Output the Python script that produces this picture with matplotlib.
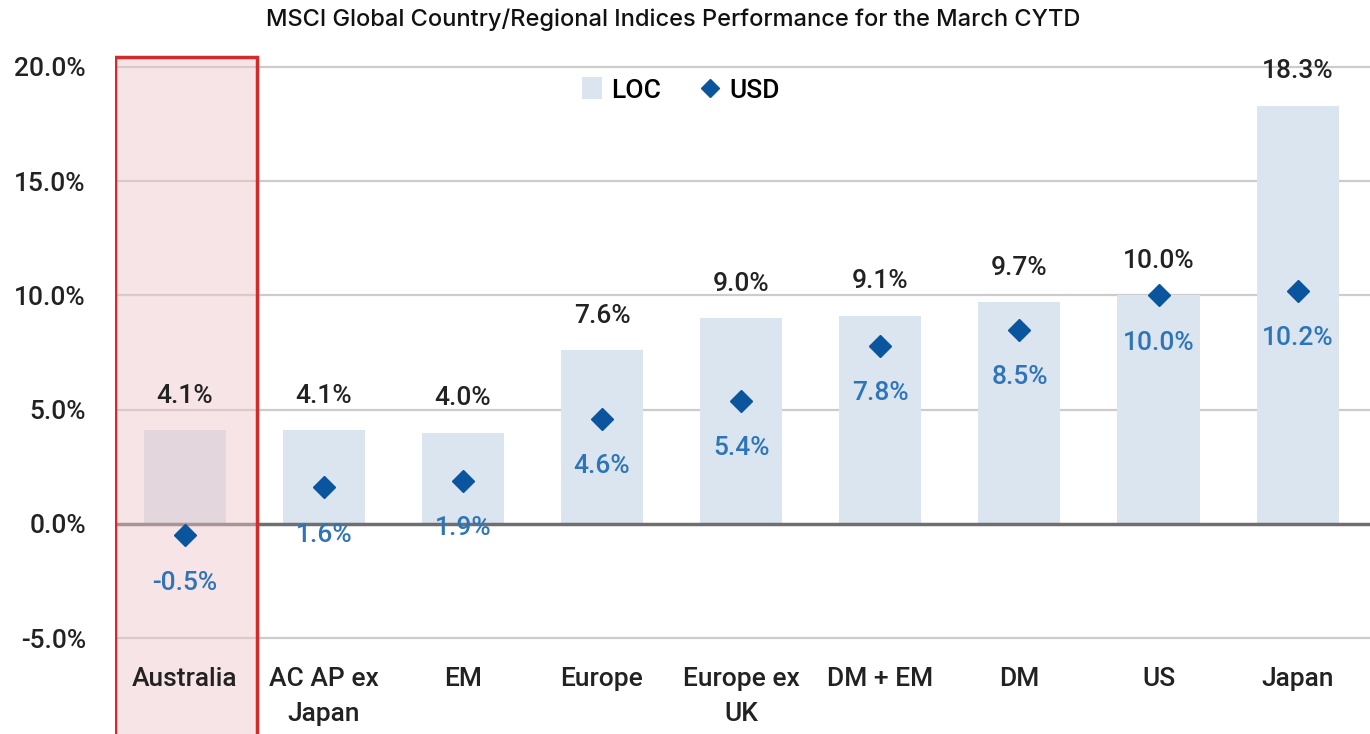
import numpy as np
import matplotlib.pyplot as plt
from matplotlib.patches import Rectangle
from matplotlib.lines import Line2D
from matplotlib.patches import Patch

plt.rcParams['font.family'] = ['Roboto', 'DejaVu Sans']
plt.rcParams['font.weight'] = 'medium'

# data
categories = ["Australia", "AC AP ex\nJapan", "EM", "Europe", "Europe ex\nUK",
              "DM + EM", "DM", "US", "Japan"]
loc_ret = [4.1, 4.1, 4.0, 7.6, 9.0, 9.1, 9.7, 10.0, 18.3]
usd_ret = [-0.5, 1.6, 1.9, 4.6, 5.4, 7.8, 8.5, 10.0, 10.2]
yticks = [20, 15, 10, 5, 0, -5]

bar_col = "#dae5f0"
dia_col = "#0b559f"
usd_txt = "#2e74b8"
txt_col = "#222222"

fig = plt.figure(figsize=(13.7, 7.34), dpi=100)
ax = fig.add_axes([115/1370, 0, 1255/1370, 694/734])

x = np.arange(len(categories))
ax.bar(x, loc_ret, width=0.59, color=bar_col, zorder=2)
ax.plot(x, usd_ret, linestyle="none", marker="D", markersize=11,
        color=dia_col, zorder=5)

# gridlines
for t in yticks:
    if t == 0:
        ax.axhline(0, color="#6f6f6f", lw=2.5, zorder=3)
    else:
        ax.axhline(t, color="#cccccc", lw=1.6, zorder=1)

# highlight box for Australia
ax.add_patch(Rectangle((-0.5, -12), 1.02, 32.45, facecolor="#eec4c8", alpha=0.45,
                       edgecolor="none", zorder=4))
ax.add_patch(Rectangle((-0.5, -12), 1.02, 32.45, facecolor="none",
                       edgecolor="#d42a2a", lw=2.5, zorder=6))

for i in range(len(categories)):
    ax.annotate(f"{loc_ret[i]:.1f}%", (x[i], loc_ret[i]), xytext=(0, 25),
                textcoords="offset points", ha="center", va="center",
                fontsize=19, color=txt_col, zorder=7)
    ax.annotate(f"{usd_ret[i]:.1f}%", (x[i], usd_ret[i]), xytext=(0, -34),
                textcoords="offset points", ha="center", va="center",
                fontsize=19, color=usd_txt, zorder=7)
    ax.text(x[i], -6.25, categories[i], ha="center", va="top", fontsize=19,
            color=txt_col, linespacing=1.6, zorder=7)

ax.set_xlim(-0.5, 8.52)
ax.set_ylim(-9.19, 21.18)
ax.set_yticks(yticks)
ax.set_yticklabels([f"{t:.1f}%" for t in yticks], fontsize=19, color=txt_col)
ax.set_xticks([])
ax.tick_params(axis="y", length=0, pad=21)
for s in ax.spines.values():
    s.set_visible(False)

handles = [Patch(facecolor=bar_col, edgecolor="none", label="LOC"),
           Line2D([], [], linestyle="none", marker="D", markersize=9,
                  color=dia_col, label="USD")]
leg = ax.legend(handles=handles, loc="center", ncol=2, frameon=False, fontsize=19,
                handlelength=0.75, handleheight=0.9, handletextpad=0.35,
                columnspacing=1.5)
leg.set_bbox_to_anchor((681/1370, 1 - 90/734), transform=fig.transFigure)

fig.text(673/1370, 1 - 20/734, "MSCI Global Country/Regional Indices Performance for the March CYTD",
         ha="center", va="center", fontsize=17, fontweight="medium",
         family=["Inter", "DejaVu Sans"], color="#111111")

fig.savefig("out.png", dpi=100)
